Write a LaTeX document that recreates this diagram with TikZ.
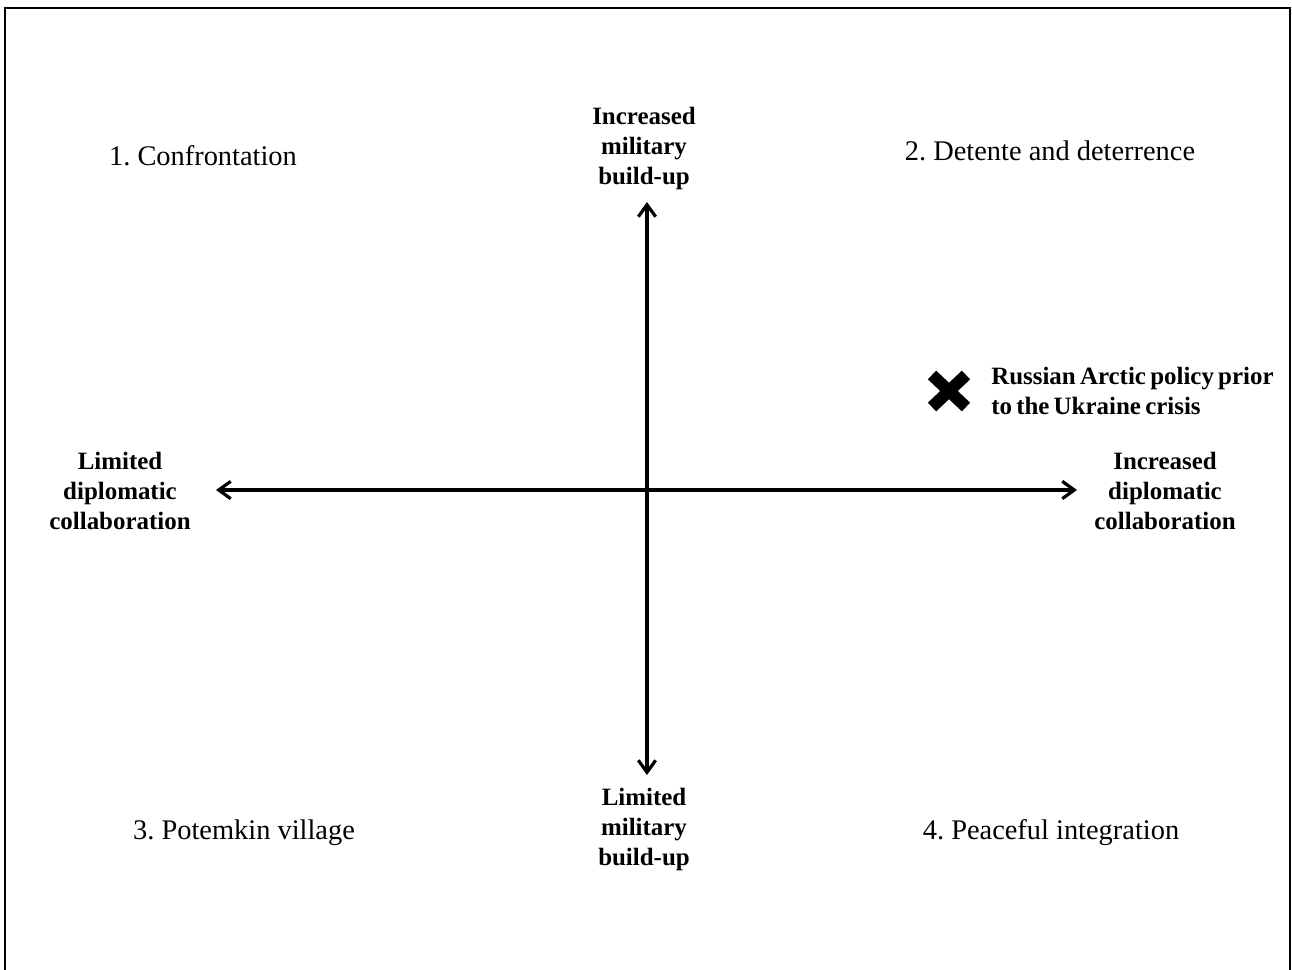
\documentclass[tikz,border=0pt]{standalone}
\usepackage{fontspec}
\setmainfont{Liberation Serif}
\usetikzlibrary{arrows.meta}
\frenchspacing
\newcommand\mytightsp{\spaceskip=0.17em\relax}
\begin{document}
\begin{tikzpicture}[x=0.75pt,y=-0.75pt,
  axislabel/.style={align=center,inner sep=0pt,font=\fontsize{18.7}{22.5}\selectfont\bfseries},
  quadlabel/.style={inner sep=0pt,font=\fontsize{21.3}{24}\selectfont},
  axis/.style={line width=2.5pt,{Straight Barb[length=9pt,width=13pt,line width=2.4pt]}-{Straight Barb[length=9pt,width=13pt,line width=2.4pt]}}]
\useasboundingbox (0,0) rectangle (1292,970);
\draw[line width=1.6pt] (5,980) -- (5,8) -- (1290,8) -- (1290,980);
% axis ends
\coordinate (L) at (216,490);
\coordinate (R) at (1077,490);
\coordinate (T) at (647,202);
\coordinate (B) at (647,775);
\draw[axis] (L) -- (R);
\draw[axis] (B) -- (T);
% axis labels
\node[axislabel] (top) at (644,149) {Increased\\military\\build-up};
\node[axislabel] (bot) at (644,829) {Limited\\military\\build-up};
\node[axislabel] (left) at (120,491) {Limited\\diplomatic\\collaboration};
\node[axislabel] (right) at (1165,491) {Increased\\diplomatic\\collaboration};
% quadrant labels
\node[quadlabel] (q1) at (203,156) {1. Confrontation};
\node[quadlabel] (q2) at (1050,151) {2. Detente and deterrence};
\node[quadlabel] (q3) at (244,833) {3. Potemkin village};
\node[quadlabel] (q4) at (1051,833) {4. Peaceful integration};
% marker
\draw[line width=9pt,line cap=butt] (932,375) -- (966,407) (932,407) -- (966,375);
\node[axislabel,align=left,anchor=west,font=\fontsize{18.7}{22.5}\selectfont\bfseries\mytightsp] (ru) at (991,391) {Russian Arctic policy prior\\to the Ukraine crisis};
\end{tikzpicture}
\end{document}
